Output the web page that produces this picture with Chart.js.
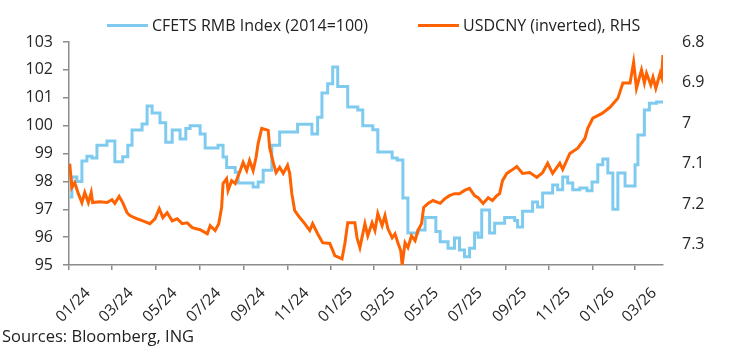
<!DOCTYPE html>
<html>
<head>
<meta charset="utf-8">
<script src="https://cdn.jsdelivr.net/npm/chart.js@4.4.1/dist/chart.umd.min.js"></script>
<style>
  body { margin: 0; background: #fff; font-family: 'Open Sans', sans-serif; color: #222; }
  .wrap { position: relative; width: 744px; height: 348px; }
  .swatch { position: absolute; top: 24px; width: 41px; height: 3px; }
  .label { position: absolute; top: 13px; height: 24px; line-height: 24px; font-size: 16px; white-space: nowrap; }
  .source { position: absolute; left: 2px; top: 325px; font-size: 16.5px; line-height: 22px; }
</style>
</head>
<body>
<div class="wrap">
  <canvas id="fxChart" width="744" height="348"></canvas>
  <span class="swatch" style="left:107px;background:#7fcbf0"></span>
  <span class="label" style="left:152px">CFETS RMB Index (2014=100)</span>
  <span class="swatch" style="left:418px;background:#ff6200"></span>
  <span class="label" style="left:463px">USDCNY (inverted), RHS</span>
  <div class="source">Sources: Bloomberg, ING</div>
</div>
<script>
// CFETS basket index, weekly fixings (step starts)
const cfetsDates = [
  '2024-01-02','2024-01-05','2024-01-12','2024-01-19','2024-01-26','2024-02-02','2024-02-09','2024-02-23',
  '2024-03-05','2024-03-16','2024-03-23','2024-03-29','2024-04-12','2024-04-19','2024-04-26','2024-05-07',
  '2024-05-15','2024-05-24','2024-06-04','2024-06-12','2024-06-18','2024-07-02','2024-07-09','2024-07-27',
  '2024-08-03','2024-08-08','2024-08-20','2024-08-24','2024-09-14','2024-09-21','2024-09-28','2024-10-10',
  '2024-10-21','2024-11-15','2024-12-05','2024-12-13','2024-12-19','2024-12-27','2025-01-03','2025-01-10',
  '2025-01-24','2025-02-07','2025-02-14','2025-02-28','2025-03-07','2025-03-27','2025-04-03','2025-04-11',
  '2025-04-18','2025-05-02','2025-05-12','2025-05-27','2025-06-02','2025-06-13','2025-06-22','2025-06-29',
  '2025-07-06','2025-07-13','2025-07-20','2025-07-25','2025-07-30','2025-08-10','2025-08-17','2025-08-31',
  '2025-09-14','2025-09-18','2025-09-25','2025-10-09','2025-10-16','2025-10-23','2025-11-06','2025-11-13',
  '2025-11-20','2025-11-27','2025-12-04','2025-12-14','2025-12-24','2025-12-31','2026-01-08','2026-01-15',
  '2026-01-22','2026-01-29','2026-02-05','2026-02-15','2026-03-01','2026-03-05','2026-03-14','2026-03-21',
  '2026-03-31','2026-04-09'
];
const cfetsValues = [
  97.44, 98.16, 98.0, 98.73, 98.9, 98.84, 99.3, 99.45,
  98.7, 98.88, 99.3, 99.84, 100.06, 100.7, 100.45, 100.1,
  99.4, 99.84, 99.52, 99.9, 100.0, 99.7, 99.2, 99.3,
  98.87, 98.5, 98.33, 97.94, 97.8, 97.98, 98.4, 99.3,
  99.77, 100.05, 99.7, 100.3, 101.17, 101.5, 102.1, 101.4,
  100.67, 100.56, 100.0, 99.85, 99.05, 98.84, 98.77, 97.4,
  96.15, 96.26, 96.7, 96.2, 95.83, 95.6, 95.97, 95.54,
  95.3, 95.6, 96.15, 96.0, 96.97, 96.15, 96.5, 96.7,
  96.6, 96.36, 96.93, 97.26, 97.08, 97.58, 97.87, 97.7,
  98.16, 97.94, 97.7, 97.76, 97.66, 97.98, 98.6, 98.8,
  98.3, 97.0, 98.3, 97.83, 98.6, 99.66, 100.56, 100.8,
  100.85, 100.85
];

// USDCNY spot, plotted on the inverted right axis
const usdcnyDates = [
  '2024-01-02','2024-01-05','2024-01-09','2024-01-14','2024-01-19','2024-01-23','2024-01-28','2024-02-01',
  '2024-02-03','2024-02-13','2024-02-23','2024-03-01','2024-03-05','2024-03-11','2024-03-16','2024-03-22',
  '2024-03-26','2024-04-05','2024-04-13','2024-04-23','2024-04-30','2024-05-06','2024-05-11','2024-05-17',
  '2024-05-24','2024-05-31','2024-06-07','2024-06-14','2024-06-21','2024-07-02','2024-07-12','2024-07-16',
  '2024-07-23','2024-07-28','2024-08-01','2024-08-03','2024-08-08','2024-08-10','2024-08-15','2024-08-20',
  '2024-08-27','2024-08-31','2024-09-05','2024-09-09','2024-09-14','2024-09-18','2024-09-21','2024-09-26',
  '2024-10-05','2024-10-07','2024-10-12','2024-10-16','2024-10-21','2024-10-26','2024-11-01','2024-11-04',
  '2024-11-07','2024-11-11','2024-11-18','2024-11-25','2024-12-02','2024-12-06','2024-12-13','2024-12-20',
  '2024-12-30','2025-01-06','2025-01-16','2025-01-20','2025-01-24','2025-02-03','2025-02-06','2025-02-10',
  '2025-02-17','2025-02-21','2025-02-27','2025-03-03','2025-03-07','2025-03-13','2025-03-17','2025-03-21',
  '2025-03-27','2025-03-31','2025-04-04','2025-04-08','2025-04-10','2025-04-14','2025-04-18','2025-04-23',
  '2025-04-28','2025-05-02','2025-05-07','2025-05-10','2025-05-16','2025-05-23','2025-06-02','2025-06-09',
  '2025-06-15','2025-06-22','2025-06-29','2025-07-06','2025-07-13','2025-07-20','2025-07-25','2025-08-01',
  '2025-08-08','2025-08-14','2025-08-20','2025-08-24','2025-08-28','2025-09-03','2025-09-10','2025-09-17',
  '2025-09-25','2025-10-05','2025-10-15','2025-10-23','2025-10-30','2025-11-06','2025-11-16','2025-11-20',
  '2025-11-30','2025-12-11','2025-12-21','2025-12-25','2026-01-01','2026-01-14','2026-01-25','2026-02-05',
  '2026-02-12','2026-02-22','2026-02-27','2026-03-03','2026-03-10','2026-03-14','2026-03-17','2026-03-23',
  '2026-03-26','2026-03-30','2026-04-05','2026-04-07','2026-04-09'
];
const usdcnyValues = [
  7.100, 7.159, 7.147, 7.174, 7.196, 7.171, 7.196, 7.171,
  7.196, 7.194, 7.196, 7.189, 7.198, 7.181, 7.196, 7.221,
  7.228, 7.236, 7.241, 7.248, 7.236, 7.211, 7.233, 7.221,
  7.241, 7.236, 7.248, 7.246, 7.258, 7.263, 7.273, 7.253,
  7.265, 7.248, 7.208, 7.149, 7.137, 7.166, 7.142, 7.149,
  7.117, 7.097, 7.117, 7.092, 7.117, 7.085, 7.050, 7.013,
  7.018, 7.060, 7.097, 7.122, 7.109, 7.124, 7.104, 7.124,
  7.174, 7.216, 7.233, 7.248, 7.265, 7.248, 7.273, 7.295,
  7.297, 7.327, 7.335, 7.297, 7.246, 7.246, 7.283, 7.307,
  7.248, 7.278, 7.246, 7.265, 7.223, 7.253, 7.228, 7.260,
  7.283, 7.273, 7.295, 7.315, 7.350, 7.295, 7.307, 7.278,
  7.290, 7.265, 7.248, 7.208, 7.198, 7.191, 7.198, 7.186,
  7.179, 7.174, 7.174, 7.166, 7.161, 7.179, 7.184, 7.198,
  7.184, 7.191, 7.179, 7.174, 7.142, 7.124, 7.116, 7.107,
  7.124, 7.122, 7.134, 7.122, 7.099, 7.124, 7.099, 7.114,
  7.075, 7.062, 7.038, 7.013, 6.988, 6.976, 6.961, 6.939,
  6.901, 6.901, 6.850, 6.914, 6.869, 6.901, 6.877, 6.906,
  6.887, 6.914, 6.877, 6.887, 6.832
];

const tickDates = ['2024-01-01','2024-03-01','2024-05-01','2024-07-01','2024-09-01','2024-11-01','2025-01-01',
  '2025-03-01','2025-05-01','2025-07-01','2025-09-01','2025-11-01','2026-01-01','2026-03-01'];
const tickLabels = ['01/24','03/24','05/24','07/24','09/24','11/24','01/25',
  '03/25','05/25','07/25','09/25','11/25','01/26','03/26'];
const leftTicks = [95, 96, 97, 98, 99, 100, 101, 102, 103];
const rightTicks = [6.8, 6.9, 7.0, 7.1, 7.2, 7.3];

const DAY0 = Date.UTC(2024, 0, 1);
function toDay(s) {
  const [y, m, d] = s.split('-').map(Number);
  return (Date.UTC(y, m - 1, d) - DAY0) / 86400000;
}

const axisGrey = '#8c8c8c';
const textCol = '#262626';
const tickFont = { family: "'Open Sans', sans-serif", size: 16 };

new Chart(document.getElementById('fxChart'), {
  type: 'line',
  data: {
    datasets: [
      {
        label: 'CFETS RMB Index (2014=100)',
        data: cfetsDates.map((d, i) => ({ x: toDay(d), y: cfetsValues[i] })),
        borderColor: '#7fcbf0',
        borderWidth: 3,
        stepped: true,
        pointRadius: 0,
        yAxisID: 'y',
        order: 2
      },
      {
        label: 'USDCNY (inverted), RHS',
        data: usdcnyDates.map((d, i) => ({ x: toDay(d), y: usdcnyValues[i] })),
        borderColor: '#ff6200',
        borderWidth: 3,
        tension: 0,
        pointRadius: 0,
        yAxisID: 'y1',
        order: 1
      }
    ]
  },
  options: {
    responsive: false,
    animation: false,
    devicePixelRatio: 1,
    layout: { padding: { top: 42, bottom: 0, left: 0, right: 0 } },
    plugins: { legend: { display: false }, tooltip: { enabled: false } },
    scales: {
      x: {
        type: 'linear',
        min: 0,
        max: toDay('2026-04-09'),
        afterBuildTicks: (scale) => { scale.ticks = tickDates.map(d => ({ value: toDay(d) })); },
        afterFit: (scale) => { scale.height = 83; },
        ticks: {
          autoSkip: false,
          maxRotation: 45,
          minRotation: 45,
          padding: 14,
          labelOffset: 19,
          color: textCol,
          font: { family: "'Open Sans', sans-serif", size: 15.5 },
          callback: (v) => tickLabels[tickDates.findIndex(d => toDay(d) === v)]
        },
        grid: { drawOnChartArea: false, tickLength: 5, color: axisGrey, lineWidth: 1.5 },
        border: { color: axisGrey, width: 1.5 }
      },
      y: {
        position: 'left',
        min: 95,
        max: 103,
        afterBuildTicks: (scale) => { scale.ticks = leftTicks.map(v => ({ value: v })); },
        afterFit: (scale) => { scale.width = 69; },
        ticks: { padding: 10, color: textCol, font: tickFont },
        grid: { drawOnChartArea: false, tickLength: 6, color: axisGrey, lineWidth: 1.5 },
        border: { color: axisGrey, width: 1.5 }
      },
      y1: {
        position: 'right',
        reverse: true,
        min: 6.8,
        max: 7.35,
        afterBuildTicks: (scale) => { scale.ticks = rightTicks.map(v => ({ value: v })); },
        afterFit: (scale) => { scale.width = 81; },
        ticks: { padding: 19, color: textCol, font: tickFont, callback: (v) => String(Number(v.toFixed(1))) },
        grid: { display: false, drawTicks: false },
        border: { display: false }
      }
    }
  }
});
</script>
</body>
</html>
